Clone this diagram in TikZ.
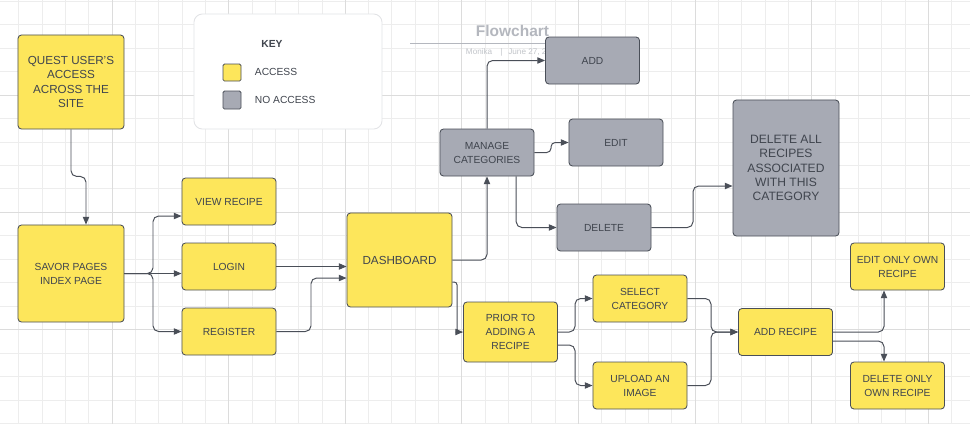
\documentclass[tikz,border=0pt]{standalone}
\usepackage{fontspec}
\setmainfont{Liberation Sans}
\usetikzlibrary{arrows.meta}

\definecolor{accessyellow}{HTML}{FDE65B}
\definecolor{noaccessgray}{HTML}{A7AAB4}
\definecolor{edgegray}{HTML}{4A4F58}
\definecolor{inkgray}{HTML}{40454E}
\definecolor{linegray}{HTML}{4A4F58}
\definecolor{gridminor}{HTML}{EDEDED}
\definecolor{gridmajor}{HTML}{DCDCDC}
\definecolor{titlegray}{HTML}{B4B7BE}
\definecolor{subgray}{HTML}{C2C5CA}
\definecolor{keyborder}{HTML}{E2E3E6}

\begin{document}
\begin{tikzpicture}[x=0.025cm,y=-0.025cm,>={Triangle[length=5.5pt,width=4.5pt]},
    font=\fontsize{7.3}{9.9}\selectfont]
            \tikzstyle{every node}=[text=inkgray]
            \tikzstyle{yesbox}=[draw=edgegray, fill=accessyellow, rounded corners=2.5pt, align=center,
                                minimum width=2.35cm, minimum height=1.175cm, inner sep=1pt, line width=0.6pt]
            \tikzstyle{nobox}=[yesbox, fill=noaccessgray]
            \tikzstyle{link}=[->, draw=linegray, line width=0.7pt, rounded corners=4pt]

            \useasboundingbox (0,0) rectangle (970,424);
            \fill[white] (0,0) rectangle (970,424);

            % background grid
            \foreach \k in {0,...,41}
                \draw[gridminor, line width=0.5pt] ({18.7+23.32*\k},0) -- ({18.7+23.32*\k},424);
            \foreach \k in {0,...,18}
                \draw[gridminor, line width=0.5pt] (0,{1.2+23.45*\k}) -- (970,{1.2+23.45*\k});
            \foreach \k in {4,9,...,39}
                \draw[gridmajor, line width=0.5pt] ({18.7+23.32*\k},0) -- ({18.7+23.32*\k},424);
            \foreach \k in {4,9,14}
                \draw[gridmajor, line width=0.5pt] (0,{1.2+23.45*\k}) -- (970,{1.2+23.45*\k});

            % title
            \node[font=\fontsize{11}{13}\selectfont\bfseries, text=titlegray] (title) at (512.5,31) {Flowchart};
            \draw[titlegray, line width=0.6pt] (410,43) -- (547,43);
            \node[anchor=west, font=\fontsize{5.8}{6}\selectfont, text=subgray] (byline) at (461,52)
                {Monika\hspace{0.2cm}|\hspace{0.15cm}June 27, 2023};

            % key
            \node[draw=keyborder, fill=white, rounded corners=6pt, line width=0.6pt,
                  minimum width=4.7cm, minimum height=2.875cm] (keybox) at (288,71.5) {};
            \node[font=\fontsize{7.3}{9}\selectfont\bfseries] (keytitle) at (272,44) {KEY};
            \node[yesbox, minimum width=0.45cm, minimum height=0.425cm, rounded corners=1pt] (keyyes) at (232,72.5) {};
            \node[nobox, minimum width=0.45cm, minimum height=0.45cm, rounded corners=1pt] (keyno) at (232,100) {};
            \node[anchor=west] (keyyestext) at (250,72) {ACCESS};
            \node[anchor=west] (keynotext) at (250,99.5) {NO ACCESS};

            % nodes
            \node[yesbox, minimum width=2.65cm, minimum height=2.35cm, font=\fontsize{8.3}{10}\selectfont]
                (quest) at (71,82) {QUEST USER'S\\ACCESS\\ACROSS THE\\SITE};
            \node[yesbox, minimum width=2.65cm, minimum height=2.425cm] (savor) at (71,273.5)
                {SAVOR PAGES\\INDEX PAGE};
            \node[yesbox] (view)     at (229,201.5) {VIEW RECIPE};
            \node[yesbox] (login)    at (229,266.5) {LOGIN};
            \node[yesbox] (register) at (229,331.5) {REGISTER};
            \node[yesbox, minimum width=2.625cm, minimum height=2.35cm, font=\fontsize{8.3}{10}\selectfont]
                (dash) at (399.5,260) {DASHBOARD};

            \node[nobox] (manage) at (487,152.5) {MANAGE\\CATEGORIES};
            \node[nobox] (add)    at (592.5,60.5) {ADD};
            \node[nobox] (edit)   at (616,142.5) {EDIT};
            \node[nobox] (delete) at (604,227.5) {DELETE};
            \node[nobox, minimum width=2.65cm, minimum height=3.4cm, font=\fontsize{8.6}{10.1}\selectfont]
                (delall) at (786,168) {DELETE ALL\\RECIPES\\ASSOCIATED\\WITH THIS\\CATEGORY};

            \node[yesbox, minimum height=1.5cm] (prior) at (510.5,332) {PRIOR TO\\ADDING A\\RECIPE};
            \node[yesbox] (select)    at (640,298.5) {SELECT\\CATEGORY};
            \node[yesbox] (upload)    at (640,385.5) {UPLOAD AN\\IMAGE};
            \node[yesbox] (addrecipe) at (785.5,332) {ADD RECIPE};
            \node[yesbox] (editown)   at (897.5,266.5) {EDIT ONLY OWN\\RECIPE};
            \node[yesbox] (delown)    at (897.5,385.5) {DELETE ONLY\\OWN RECIPE};

            % bends
            \coordinate (split)    at (153,273.5);
            \coordinate (regbend)  at (311,300);
            \coordinate (editbend) at (551,150);
            \coordinate (delbend)  at (693,200);
            \coordinate (dashbend) at (457,310);
            \coordinate (pbend)    at (575,330);
            \coordinate (abend)    at (711,330);

            % connectors
            \draw[link] (quest.south) -- ++(0,47) -| ([xshift=0.375cm]savor.north);

            \draw[link] (savor.east) -- (savor.east -| split) |- ([yshift=-0.3625cm]view.west);
            \draw[link] (savor.east) -- (savor.east -| login.west);
            \draw[link] (savor.east) -- (savor.east -| split) |- (register.west);

            \draw[link] (login.east) -- (login.east -| dash.west);
            \draw[link] (register.east) -- (register.east -| regbend) |- ([yshift=-0.45cm]dash.west);

            \draw[link] (dash.east) -| (manage.south);
            \draw[link] (manage.north) |- (add.west);
            \draw[link, rounded corners=3pt] (manage.east) -- (manage.east -| editbend) |- (edit.west);
            \draw[link] ([xshift=0.73cm]manage.south) |- (delete.west);
            \draw[link] (delete.east) -- (delete.east -| delbend) |- ([yshift=-0.45cm]delall.west);

            \draw[link, rounded corners=2pt] ([yshift=-0.55cm]dash.east) -| (dashbend) |- (prior.west);
            \draw[link] (prior.east) -- (prior.east -| pbend) |- (select.west);
            \draw[link] ([yshift=-0.325cm]prior.east) -- ([yshift=-0.325cm]prior.east -| pbend) |- (upload.west);
            \draw[link] (select.east) -- (select.east -| abend) |- (addrecipe.west);
            \draw[link] (upload.east) -- (upload.east -| abend) |- (addrecipe.west);

            \draw[link] (addrecipe.east) -| ([xshift=-0.3375cm]editown.south);
            \draw[link] ([yshift=-0.225cm]addrecipe.east) -| ([xshift=-0.3375cm]delown.north);
\end{tikzpicture}
\end{document}
